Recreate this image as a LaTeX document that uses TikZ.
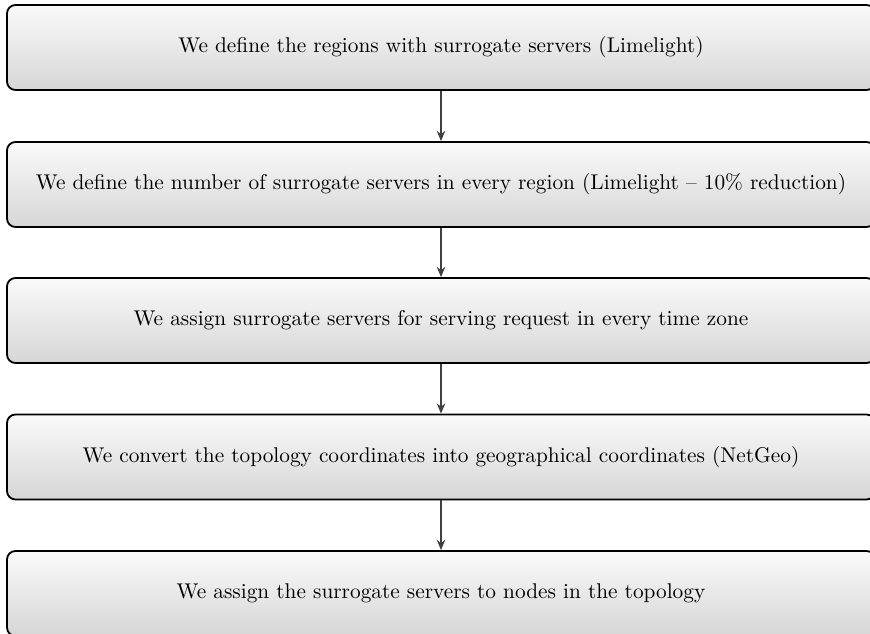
\documentclass[tikz,border=0pt]{standalone}
\usetikzlibrary{arrows.meta}
\begin{document}
\begin{tikzpicture}[x=0.469pt,y=-0.469pt,
  stepbox/.style={draw=black,line width=0.85pt,rounded corners=4pt,
    top color=gray!4,bottom color=gray!32,
    minimum width=868*0.469pt,minimum height=85*0.469pt,inner sep=0pt,
    font=\normalsize},
  flow/.style={draw=black!75,line width=0.65pt,-{Stealth[length=4.8pt,width=4pt]}}]
\useasboundingbox (0,0) rectangle (870,634);
\node[stepbox] (s1) at (441,47.5) {We define the regions with surrogate servers (Limelight)};
\node[stepbox] (s2) at (441,184.5) {We define the number of surrogate servers in every region (Limelight -- 10\% reduction)};
\node[stepbox] (s3) at (441,320.5) {We assign surrogate servers for serving request in every time zone};
\node[stepbox] (s4) at (441,457) {We convert the topology coordinates into geographical coordinates (NetGeo)};
\node[stepbox] (s5) at (441,593.5) {We assign the surrogate servers to nodes in the topology};
\draw[flow] (s1) -- (s2);
\draw[flow] (s2) -- (s3);
\draw[flow] (s3) -- (s4);
\draw[flow] (s4) -- (s5);
\end{tikzpicture}
\end{document}
